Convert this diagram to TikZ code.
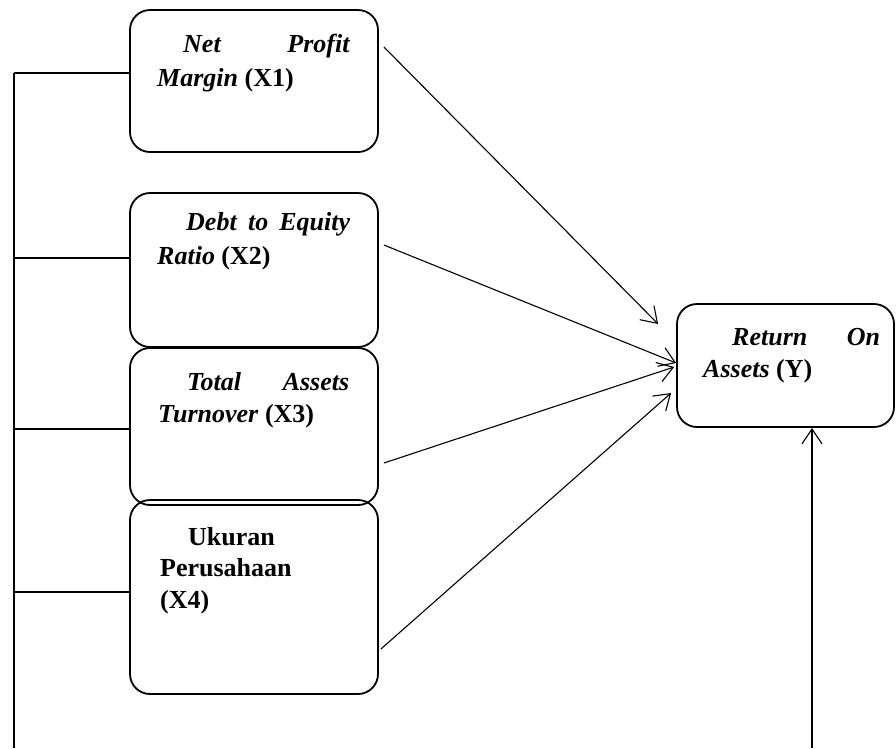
\documentclass[tikz,border=0pt]{standalone}
\usepackage{fontspec}
\setmainfont{Liberation Serif}
\usetikzlibrary{arrows.meta}
\begin{document}
\begin{tikzpicture}[x=1pt,y=-1pt,
  boxnode/.style={draw, line width=1.8pt, rounded corners=20pt, inner sep=0pt},
  lbl/.style={anchor=base west, inner sep=0pt, align=left, font=\fontsize{26}{#1}\selectfont\bfseries},
  lbl/.default=32,
  link/.style={line width=1.1pt, -{Straight Barb[length=15pt,width=20pt,line width=1.1pt]}},
  bus/.style={line width=1.8pt}]
\useasboundingbox (0,0) rectangle (896,748);
% boxes
\node[boxnode, minimum width=248pt, minimum height=142pt] (x1) at (254,81) {};
\node[boxnode, minimum width=248pt, minimum height=154pt] (x2) at (254,270) {};
\node[boxnode, minimum width=248pt, minimum height=157pt] (x3) at (254,426.5) {};
\node[boxnode, minimum width=248pt, minimum height=194pt] (x4) at (254,597) {};
\node[boxnode, minimum width=217pt, minimum height=123pt] (y) at (785.5,365.5) {};
% labels (anchor = baseline of last line)
\node[lbl=34] (t1) at (157,86) {\hbox to 193pt{\hspace*{26pt}\textit{Net}\hfill\textit{Profit}}\\\textit{Margin} (X1)};
\node[lbl=34] (t2) at (157,264) {\hbox to 193pt{\hspace*{29pt}\textit{Debt}\hfill\textit{to}\hfill\textit{Equity}}\\\textit{Ratio} (X2)};
\node[lbl] (t3) at (158,422) {\hbox to 191pt{\hspace*{29pt}\textit{Total}\hfill\textit{Assets}}\\\textit{Turnover} (X3)};
\node[lbl=31.5] (t4) at (160,608) {\hspace*{28pt}Ukuran\\Perusahaan\\(X4)};
\node[lbl] (ty) at (703,377) {\hbox to 177pt{\hspace*{29pt}\textit{Return}\hfill\textit{On}}\\\textit{Assets} (Y)};
% arrows
\draw[link] ([shift={(5,-34)}]x1.east) -- ([shift={(-18,-41.5)}]y.west);
\draw[link] ([shift={(5,-25)}]x2.east) -- ([shift={(0,-2.5)}]y.west);
\draw[link] ([shift={(5,36.5)}]x3.east) -- ([shift={(-2,1.5)}]y.west);
\draw[link] ([shift={(2,52)}]x4.east) -- ([shift={(-5,27.5)}]y.west);
\coordinate (bot) at (812,748);
\draw[link] (bot) -- ([shift={(26.5,0)}]y.south);
% left bus
\coordinate (busT) at (14,73);
\coordinate (busB) at (14,748);
\draw[bus] (busT) -- (busB);
\draw[bus] ([shift={(0,-8)}]x1.west) -- (busT);
\draw[bus] ([shift={(0,-12)}]x2.west) -- ++(-116,0);
\draw[bus] ([shift={(0,2.5)}]x3.west) -- ++(-116,0);
\draw[bus] ([shift={(0,-5)}]x4.west) -- ++(-116,0);
\end{tikzpicture}
\end{document}
